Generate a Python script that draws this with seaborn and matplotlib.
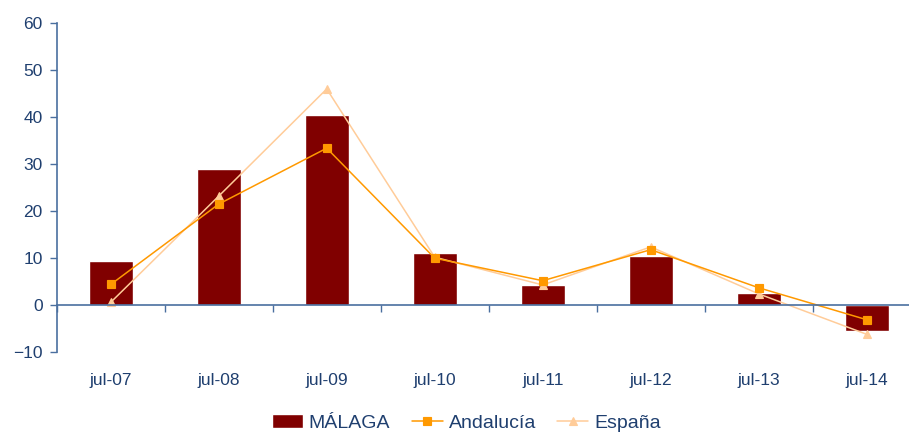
import matplotlib
matplotlib.use("Agg")
import matplotlib.pyplot as plt
import seaborn as sns

# Data
meses = ["jul-07", "jul-08", "jul-09", "jul-10", "jul-11", "jul-12", "jul-13", "jul-14"]
malaga = [9.3, 28.8, 40.4, 10.9, 4.1, 10.3, 2.4, -5.7]
andalucia = [4.3, 21.4, 33.3, 9.9, 5.1, 11.7, 3.6, -3.2]
espana = [0.5, 23.1, 45.9, 10.1, 4.2, 12.3, 2.3, -6.3]

text_color = "#1F3F6F"
axis_color = "#4A6F9F"

sns.set_theme(style="white")
plt.rcParams["font.family"] = ["Liberation Sans", "DejaVu Sans"]

fig = plt.figure(figsize=(9.09, 4.32), dpi=100)
ax = fig.add_axes([0.0624, 0.1859, 0.9505, 0.7616])

sns.barplot(x=meses, y=malaga, color="#800000", width=0.41, saturation=1,
            label="MÁLAGA", ax=ax)
sns.pointplot(x=meses, y=espana, color="#FFCC99", markers="^", linestyles="-",
              markersize=6, linewidth=1.1, label="España", ax=ax)
sns.pointplot(x=meses, y=andalucia, color="#FF9900", markers="s", linestyles="-",
              markersize=5.5, linewidth=1.1, label="Andalucía", ax=ax)

ax.set_xlim(-0.5, 7.5)
ax.set_ylim(-10, 60)
ax.set_yticks(range(-10, 61, 10))
ax.tick_params(axis="y", left=True, length=5, width=1, color=axis_color,
               labelsize=12.5, labelcolor=text_color, pad=5)

# axis line at zero, ticks between categories
ax.spines["top"].set_visible(False)
ax.spines["right"].set_visible(False)
ax.spines["left"].set_color(axis_color)
ax.spines["bottom"].set_color(axis_color)
ax.spines["bottom"].set_position(("data", 0))
ax.spines["left"].set_linewidth(1.2)
ax.spines["bottom"].set_linewidth(1.2)
ax.set_xticks([i - 0.5 for i in range(len(meses) + 1)])
ax.set_xticklabels([])
ax.tick_params(axis="x", bottom=True, length=5, width=1, color=axis_color)

# category labels below the plot area
sec = ax.secondary_xaxis(0)
sec.set_xticks(range(len(meses)))
sec.set_xticklabels(meses)
sec.tick_params(length=0, labelsize=12.5, labelcolor=text_color, pad=15)
sec.spines["bottom"].set_visible(False)

ax.set_xlabel("")
ax.set_ylabel("")
if ax.get_legend() is not None:
    ax.get_legend().remove()

handles, labels = ax.get_legend_handles_labels()
order = [labels.index(n) for n in ["MÁLAGA", "Andalucía", "España"]]
leg = fig.legend([handles[i] for i in order], [labels[i] for i in order],
                 loc="lower center", bbox_to_anchor=(0.513, -0.04), ncol=3,
                 frameon=False, fontsize=14, handlelength=1.6,
                 handletextpad=0.3, columnspacing=1.1)
for t in leg.get_texts():
    t.set_color(text_color)

fig.savefig("out.png", dpi=100)
